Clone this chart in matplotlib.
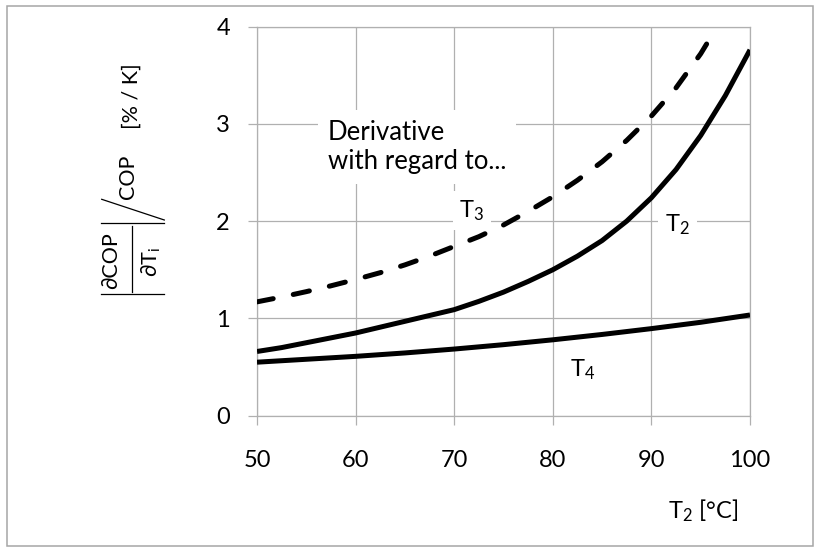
import numpy as np
import matplotlib
matplotlib.use('Agg')
import matplotlib.pyplot as plt
from matplotlib.lines import Line2D
from matplotlib.patches import Rectangle

plt.rcParams['font.family'] = ['Lato', 'DejaVu Sans']
plt.rcParams['mathtext.fontset'] = 'custom'
plt.rcParams['mathtext.rm'] = 'Lato'
plt.rcParams['mathtext.it'] = 'Lato:italic'
plt.rcParams['mathtext.bf'] = 'Lato:bold'

# relative COP sensitivity vs. T2, one curve per temperature
t2_x = [50, 52.5, 55, 57.5, 60, 62.5, 65, 67.5, 70, 72.5, 75, 77.5, 80, 82.5, 85, 87.5, 90, 92.5, 95, 97.5, 100]
t2_y = [0.66, 0.70, 0.75, 0.80, 0.85, 0.91, 0.97, 1.03, 1.09, 1.175, 1.27, 1.38, 1.50, 1.64, 1.80,
        2.00, 2.24, 2.53, 2.88, 3.29, 3.76]

t3_x = [50, 52.5, 55, 57.5, 60, 62.5, 65, 67.5, 70, 72.5, 75, 77.5, 80, 82.5, 85, 87.5, 90, 92.5, 95, 95.6]
t3_y = [1.17, 1.22, 1.275, 1.335, 1.40, 1.47, 1.55, 1.64, 1.74, 1.84, 1.96, 2.10, 2.25, 2.42, 2.61,
        2.83, 3.08, 3.37, 3.72, 3.82]

t4_x = [50, 55, 60, 65, 70, 75, 80, 85, 90, 95, 100]
t4_y = [0.55, 0.58, 0.61, 0.645, 0.685, 0.73, 0.78, 0.835, 0.895, 0.96, 1.035]

xticks = [50, 60, 70, 80, 90, 100]
yticks = [0, 1, 2, 3, 4]

W, H = 820, 552
grid_col = '#b0b0b0'

fig = plt.figure(figsize=(W / 100, H / 100), dpi=100)
ax = fig.add_axes([257 / W, 1 - 415.7 / H, (750 - 257) / W, (415.7 - 26.5) / H])

line_kw = dict(color='black', lw=3.6, solid_joinstyle='round', zorder=3)
ax.plot(t2_x, t2_y, solid_capstyle='butt', **line_kw)
ax.plot(t3_x, t3_y, dashes=(3.3, 4.1), dash_capstyle='round', dash_joinstyle='round',
        color='black', lw=3.6, zorder=3)
ax.plot(t4_x, t4_y, solid_capstyle='butt', **line_kw)

ax.set_xlim(50, 100)
ax.set_ylim(0, 4)
ax.set_xticks(xticks)
ax.set_yticks(yticks)
ax.set_axisbelow(True)
ax.grid(True, color=grid_col, lw=0.9)
for s in ax.spines.values():
    s.set_color(grid_col)
    s.set_linewidth(0.9)
ax.tick_params(axis='both', direction='out', length=6.5, width=0.9, color=grid_col,
               labelsize=17, labelcolor='black')
ax.tick_params(axis='y', pad=13)
ax.tick_params(axis='x', pad=18)

# curve labels on white boxes so the grid is hidden behind them
box = dict(facecolor='white', edgecolor='none', pad=5)
ax.text(57.2, 2.76, 'Derivative\nwith regard to...', fontsize=18.5, ha='left', va='center',
        linespacing=1.2, zorder=1, bbox=dict(facecolor='white', edgecolor='none', pad=7))
ax.text(71.8, 2.11, 'T$_3$', fontsize=17, ha='center', va='center', zorder=1, bbox=box)
ax.text(92.65, 1.96, 'T$_2$', fontsize=17, ha='center', va='center', zorder=1, bbox=box)
ax.text(83.0, 0.47, 'T$_4$', fontsize=17, ha='center', va='center', zorder=1, bbox=box)

fig.text(738 / W, 1 - 511 / H, 'T$_2$ [°C]', fontsize=17, ha='right', va='center')


def fx(px):
    return px / W


def fy(py):
    return 1 - py / H


# y label: |dCOP/dTi| / COP  [% / K], built from pieces
fig.text(fx(111.5), fy(261), '∂COP', fontsize=15.5, rotation=90, ha='center', va='center')
fig.text(fx(151), fy(262), '∂T$_\\mathrm{i}$', fontsize=15.5, rotation=90, ha='center', va='center')
fig.text(fx(128), fy(177), 'COP', fontsize=15.5, rotation=90, ha='center', va='center')
fig.text(fx(131.5), fy(96.5), '[% / K]', fontsize=15.5, rotation=90, ha='center', va='center')
lab_lines = [
    ([132.3, 132.3], [226, 291.7]),
    ([100.7, 164.3], [222.7, 222.7]),
    ([100.7, 164.3], [294.3, 294.3]),
    ([101.7, 164.3], [199.3, 220]),
]
for xs, ys in lab_lines:
    fig.add_artist(Line2D([fx(v) for v in xs], [fy(v) for v in ys], color='black', lw=0.9,
                          transform=fig.transFigure))

fig.add_artist(Rectangle((7 / W, 6 / H), (813 - 7) / W, (546 - 6) / H, transform=fig.transFigure,
                         fill=False, edgecolor='#a6a6a6', lw=1.1))

fig.savefig('out.png', dpi=100)
